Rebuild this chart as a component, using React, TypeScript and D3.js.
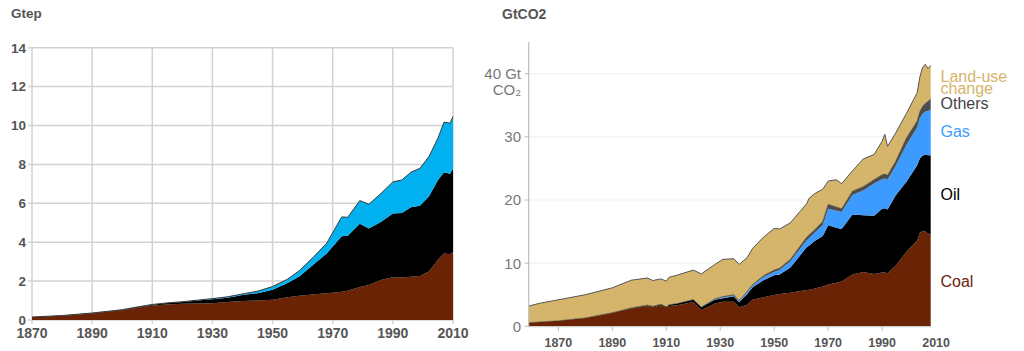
import * as d3 from "d3";

// ---- left chart: primary energy (Gtep) ----
const leftYears = [1870, 1880, 1890, 1900, 1905, 1910, 1915, 1920, 1925, 1930, 1935, 1940, 1945, 1950, 1955, 1959, 1964, 1968, 1973, 1975, 1979, 1982, 1986, 1990, 1993, 1996, 1999, 2002, 2005, 2007, 2009, 2010];
const leftCoal = [0.15, 0.22, 0.34, 0.5, 0.63, 0.74, 0.8, 0.84, 0.85, 0.86, 0.92, 0.98, 1.0, 1.04, 1.17, 1.25, 1.33, 1.38, 1.45, 1.5, 1.7, 1.8, 2.06, 2.2, 2.18, 2.22, 2.26, 2.5, 3.1, 3.42, 3.38, 3.5];
const leftOil = [0.005, 0.01, 0.02, 0.03, 0.04, 0.05, 0.07, 0.09, 0.15, 0.21, 0.23, 0.3, 0.38, 0.52, 0.73, 1.0, 1.57, 2.04, 2.85, 2.83, 3.25, 2.9, 2.98, 3.28, 3.32, 3.58, 3.61, 3.85, 4.1, 4.18, 4.14, 4.28];
const leftGas = [0, 0, 0, 0, 0, 0.01, 0.01, 0.01, 0.02, 0.03, 0.04, 0.06, 0.1, 0.16, 0.2, 0.3, 0.4, 0.53, 1.0, 0.95, 1.19, 1.25, 1.46, 1.62, 1.7, 1.8, 1.93, 2.05, 2.15, 2.57, 2.6, 2.68];
const leftYTicks = [0, 2, 4, 6, 8, 10, 12, 14];
const leftXTicks = [1870, 1890, 1910, 1930, 1950, 1970, 1990, 2010];

// ---- right chart: CO2 emissions (GtCO2) ----
const rightYears = [1859, 1863, 1870, 1880, 1890, 1897, 1903, 1905, 1908, 1910, 1911, 1914, 1920, 1923, 1928, 1931, 1935, 1937, 1940, 1942, 1946, 1950, 1952, 1956, 1962, 1963, 1965, 1968, 1970, 1973, 1975, 1979, 1983, 1987, 1990, 1991, 1992, 1995, 1999, 2003, 2004, 2005, 2006, 2007, 2008];
const rightCoal = [0.57, 0.68, 0.86, 1.3, 2.1, 2.8, 3.2, 3.0, 3.35, 2.85, 3.2, 3.35, 3.85, 2.6, 3.6, 3.9, 3.9, 3.0, 3.4, 4.2, 4.6, 4.95, 5.1, 5.3, 5.75, 5.8, 6.0, 6.3, 6.6, 6.9, 7.1, 8.2, 8.6, 8.3, 8.5, 8.5, 8.4, 9.6, 11.8, 13.6, 14.8, 15.1, 15.0, 14.7, 14.5];
const rightOil = [0, 0, 0.01, 0.02, 0.05, 0.1, 0.15, 0.15, 0.15, 0.2, 0.2, 0.25, 0.35, 0.4, 0.6, 0.55, 0.85, 0.8, 1.7, 2.0, 2.7, 3.15, 3.1, 4.0, 6.75, 7.0, 7.5, 8.0, 9.4, 8.7, 8.3, 9.5, 9.0, 9.2, 10.1, 10.2, 10.1, 11.1, 11.1, 11.9, 11.8, 11.9, 12.2, 12.4, 12.6];
const rightGas = [0, 0, 0, 0, 0, 0, 0, 0, 0, 0, 0, 0, 0.05, 0.05, 0.1, 0.15, 0.15, 0.15, 0.35, 0.25, 0.5, 0.5, 0.7, 1.0, 1.1, 1.2, 1.3, 1.7, 2.6, 2.7, 2.7, 3.1, 3.9, 5.1, 4.7, 4.7, 4.7, 4.7, 5.8, 6.0, 6.4, 6.6, 6.8, 7.0, 7.2];
const rightOthers = [0, 0, 0, 0, 0, 0, 0, 0, 0, 0, 0, 0, 0, 0, 0.05, 0.1, 0.1, 0.1, 0.1, 0.15, 0.2, 0.3, 0.3, 0.3, 0.5, 0.5, 0.5, 0.6, 0.7, 0.6, 0.5, 0.6, 0.6, 0.6, 0.7, 0.7, 0.7, 0.7, 1.1, 1.0, 1.0, 1.2, 1.3, 1.5, 1.7];
const rightLandUse = [2.63, 2.96, 3.33, 3.68, 3.95, 4.4, 4.3, 4.1, 4.0, 4.1, 4.35, 4.5, 4.65, 5.25, 5.45, 5.9, 5.7, 5.75, 5.35, 5.75, 6.1, 6.6, 6.2, 5.8, 5.3, 5.8, 5.7, 5.1, 3.7, 4.3, 4.0, 3.2, 4.4, 4.0, 5.3, 6.3, 4.6, 4.5, 3.9, 4.5, 5.5, 6.2, 6.2, 5.2, 5.3];
const rightYTicks = [0, 10, 20, 30];
const rightXTicks = [1870, 1890, 1910, 1930, 1950, 1970, 1990, 2010];

const FONT = "'Liberation Sans', Arial, Helvetica, sans-serif";
const AXIS_TEXT = "#555";

const leftKeys = ["coal", "oil", "gas"];
const leftColors: Record<string, string> = { coal: "#6a2305", oil: "#000000", gas: "#00b0ef" };

const rightKeys = ["coal", "oil", "gas", "others", "landUse"];
const rightColors: Record<string, string> = {
  coal: "#6a2305",
  oil: "#000000",
  gas: "#3d9bff",
  others: "#4d4d4d",
  landUse: "#d5b56b",
};

function LeftChart() {
  const x = d3.scaleLinear().domain([1870, 2010]).range([32, 453]);
  const y = d3.scaleLinear().domain([0, 14]).range([320, 47.7]);

  const rows = leftYears.map((yr, i) => ({ year: yr, coal: leftCoal[i], oil: leftOil[i], gas: leftGas[i] }));
  const series = d3.stack<any>().keys(leftKeys)(rows);
  const area = d3
    .area<any>()
    .x((d) => x(d.data.year))
    .y0((d) => y(d[0]))
    .y1((d) => y(d[1]));
  const topLine = d3
    .line<any>()
    .x((d) => x(d.data.year))
    .y((d) => y(d[1]));

  return (
    <g>
      <text x={11} y={18} fontFamily={FONT} fontWeight="bold" fontSize={13.5} fill="#555">
        Gtep
      </text>
      {leftYTicks.map((t) => (
        <line key={"hy" + t} x1={28} x2={453} y1={y(t)} y2={y(t)} stroke="#d2d2d2" strokeWidth={1.5} />
      ))}
      {leftXTicks.map((t) => (
        <line key={"vx" + t} x1={x(t)} x2={x(t)} y1={y(14)} y2={324} stroke="#d2d2d2" strokeWidth={1.5} />
      ))}
      {series.map((s) => (
        <path key={s.key} d={area(s) || ""} fill={leftColors[s.key]} />
      ))}
      <path d={topLine(series[series.length - 1]) || ""} fill="none" stroke="#3a3a3a" strokeWidth={1} />
      {leftYTicks.map((t) => (
        <text key={"ly" + t} x={26} y={y(t)} dy="0.36em" textAnchor="end" fontFamily={FONT} fontWeight="bold" fontSize={13.5} fill={AXIS_TEXT}>
          {t}
        </text>
      ))}
      {leftXTicks.map((t) => (
        <text key={"lx" + t} x={x(t)} y={338} textAnchor="middle" fontFamily={FONT} fontWeight="bold" fontSize={14} fill={AXIS_TEXT}>
          {t}
        </text>
      ))}
    </g>
  );
}

function RightChart() {
  const x = d3.scaleLinear().domain([1859, 2008]).range([528.7, 930.7]);
  const y = d3.scaleLinear().domain([0, 40]).range([326.3, 73.7]);

  const rows = rightYears.map((yr, i) => ({
    year: yr,
    coal: rightCoal[i],
    oil: rightOil[i],
    gas: rightGas[i],
    others: rightOthers[i],
    landUse: rightLandUse[i],
  }));
  const series = d3.stack<any>().keys(rightKeys)(rows);
  const area = d3
    .area<any>()
    .x((d) => x(d.data.year))
    .y0((d) => y(d[0]))
    .y1((d) => y(d[1]));
  const topLine = d3
    .line<any>()
    .x((d) => x(d.data.year))
    .y((d) => y(d[1]));

  const labels = [
    { text: "Land-use", y: 81.7, color: "#d5b56b" },
    { text: "change", y: 93.8, color: "#d5b56b" },
    { text: "Others", y: 109.3, color: "#444" },
    { text: "Gas", y: 137.3, color: "#3d9bff" },
    { text: "Oil", y: 200, color: "#000" },
    { text: "Coal", y: 286.5, color: "#6a2305" },
  ];

  return (
    <g>
      <text x={502} y={19} fontFamily={FONT} fontWeight="bold" fontSize={14} fill="#555">
        GtCO2
      </text>
      {[10, 20, 30, 40].map((t) => (
        <line key={"g" + t} x1={528.7} x2={930.7} y1={y(t)} y2={y(t)} stroke="#efefef" strokeWidth={1} />
      ))}
      {series.map((s) => (
        <path key={s.key} d={area(s) || ""} fill={rightColors[s.key]} />
      ))}
      <path d={topLine(series[3]) || ""} fill="none" stroke="#333" strokeWidth={0.6} />
      <path d={topLine(series[series.length - 1]) || ""} fill="none" stroke="#555" strokeWidth={1} />
      <line x1={528.7} x2={528.7} y1={42} y2={326.8} stroke="#bdbdbd" strokeWidth={1.2} />
      <line x1={528.7} x2={931} y1={326.8} y2={326.8} stroke="#cfcfcf" strokeWidth={1} />
      {[0, 10, 20, 30, 40].map((t) => (
        <line key={"yt" + t} x1={524.5} x2={528.7} y1={y(t)} y2={y(t)} stroke="#bdbdbd" strokeWidth={1} />
      ))}
      {rightXTicks.slice(0, -1).map((t) => (
        <line key={"xt" + t} x1={x(t)} x2={x(t)} y1={326.8} y2={331} stroke="#bdbdbd" strokeWidth={1} />
      ))}
      {rightYTicks.map((t) => (
        <text key={"ry" + t} x={521} y={y(t)} dy="0.36em" textAnchor="end" fontFamily={FONT} fontSize={15} fill="#777">
          {t}
        </text>
      ))}
      <text x={521} y={79} textAnchor="end" fontFamily={FONT} fontSize={15} fill="#777">
        40 Gt
      </text>
      <text x={521} y={94.5} textAnchor="end" fontFamily={FONT} fontSize={15} fill="#777">
        CO₂
      </text>
      {rightXTicks.map((t) => (
        <text key={"rx" + t} x={x(t)} y={346.5} textAnchor="middle" fontFamily={FONT} fontWeight="bold" fontSize={12.5} fill={AXIS_TEXT}>
          {t}
        </text>
      ))}
      {labels.map((l) => (
        <text key={l.text} x={940.5} y={l.y} fontFamily={FONT} fontSize={16} fill={l.color}>
          {l.text}
        </text>
      ))}
    </g>
  );
}

export default function App() {
  return (
    <svg
      width={1024}
      height={351}
      viewBox="0 0 1024 351"
      style={{ position: "absolute", left: 0, top: 0, background: "#fff", display: "block" }}
    >
      <rect width={1024} height={351} fill="#fff" />
      <LeftChart />
      <RightChart />
    </svg>
  );
}
